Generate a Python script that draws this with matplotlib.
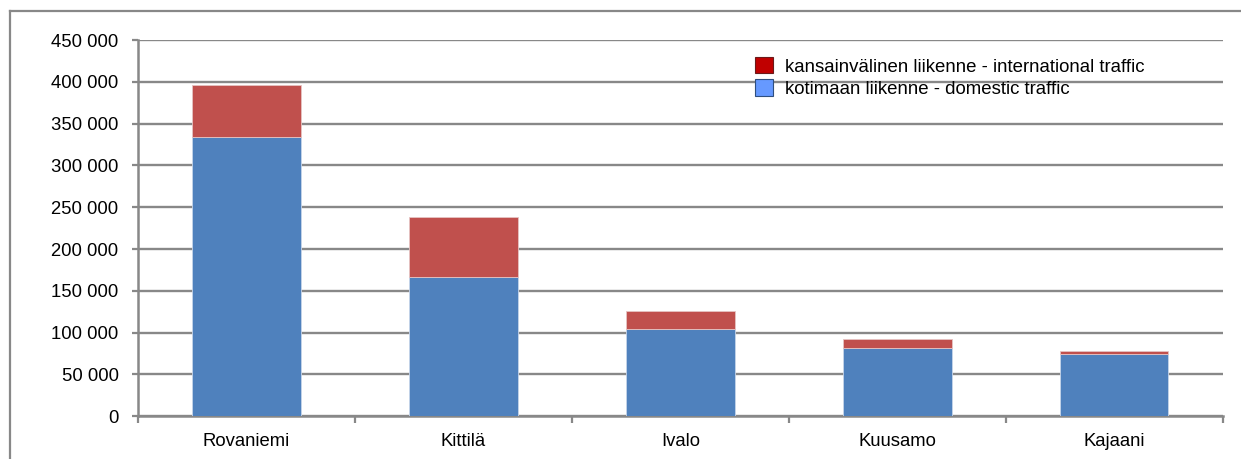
import numpy as np
import matplotlib
matplotlib.use("Agg")
from matplotlib import pyplot as plt
from matplotlib.patches import Patch
from matplotlib.lines import Line2D
from matplotlib.ticker import FuncFormatter

plt.rcParams['font.family'] = ['Liberation Sans', 'DejaVu Sans']

airports = ['Rovaniemi', 'Kittilä', 'Ivalo', 'Kuusamo', 'Kajaani']
domestic = [334000, 166000, 104000, 82000, 75000]
international = [62000, 72000, 22000, 10000, 3000]

bar_blue = '#4F81BD'
bar_red = '#C0504D'
grid_col = '#888888'

fig = plt.figure(figsize=(12.41, 4.59), dpi=100)
ax = fig.add_axes([138/1241, 1 - 416.3/459, (1222.7-138)/1241, (416.3-40)/459])

x = np.arange(len(airports))
ax.bar(x, domestic, width=0.5, color=bar_blue, edgecolor='#c6d5ea', linewidth=0.6, zorder=3)
ax.bar(x, international, width=0.5, bottom=domestic, color=bar_red,
       edgecolor='#e6c4c3', linewidth=0.6, zorder=3)

ax.set_xlim(-0.5, len(airports) - 0.5)
ax.set_ylim(0, 450000)
ax.set_yticks(np.arange(0, 450001, 50000))
ax.yaxis.set_major_formatter(FuncFormatter(lambda v, p: f'{int(v):,}'.replace(',', ' ')))
ax.grid(axis='y', color=grid_col, linewidth=1.7, zorder=0)

ax.set_xticks(x)
ax.set_xticklabels(airports)
ax.set_xticks(np.arange(-0.5, len(airports), 1), minor=True)
ax.tick_params(axis='x', which='major', length=0, pad=12, labelsize=13.3)
ax.tick_params(axis='x', which='minor', length=5, width=1.6, color=grid_col, direction='out')
ax.tick_params(axis='y', length=4, width=1.6, color=grid_col, pad=10, labelsize=13.3)

for s in ['top', 'right']:
    ax.spines[s].set_visible(False)
for s in ['left', 'bottom']:
    ax.spines[s].set_color(grid_col)
    ax.spines[s].set_linewidth(1.8)

handles = [Patch(facecolor='#C00000', edgecolor='#6b1a1a', linewidth=0.8),
           Patch(facecolor='#6699FF', edgecolor='#2f4f7f', linewidth=0.8)]
labels = ['kansainvälinen liikenne - international traffic',
          'kotimaan liikenne - domestic traffic']
fig.legend(handles, labels, loc='upper left', bbox_to_anchor=(755/1241, 1 - 57/459),
           frameon=False, fontsize=13.4, handlelength=0.97, handleheight=0.97,
           handletextpad=0.62, labelspacing=0.2, borderpad=0, borderaxespad=0)

# outer chart frame (cropped)
fig.add_artist(Line2D([10/1241, 1], [1 - 11/459, 1 - 11/459], color=grid_col, linewidth=1.6))
fig.add_artist(Line2D([10/1241, 10/1241], [0, 1 - 11/459], color=grid_col, linewidth=1.6))

fig.savefig('out.png', dpi=100)
